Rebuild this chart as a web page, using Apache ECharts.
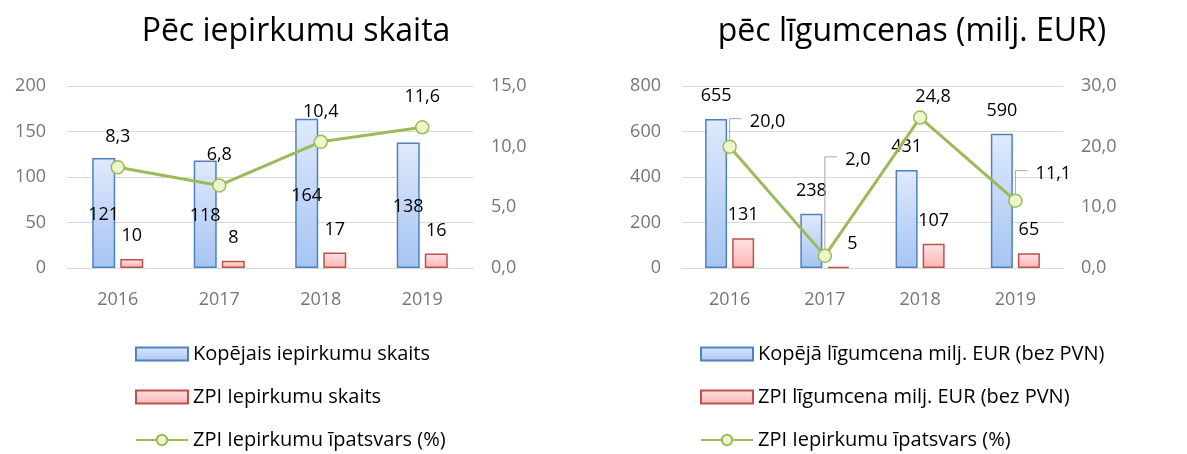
<!DOCTYPE html>
<html>
<head>
<meta charset="utf-8">
<title>ZPI iepirkumi</title>
<script src="https://cdn.jsdelivr.net/npm/echarts@6.0.0/dist/echarts.min.js"></script>
<style>
  html, body { margin: 0; padding: 0; background: #fff; }
  #chart { width: 1187px; height: 454px; }
</style>
</head>
<body>
<div id="chart"></div>
<script>
// dati
var years = ['2016', '2017', '2018', '2019'];

var skaitsKopa = [121, 118, 164, 138];
var skaitsZpi = [10, 8, 17, 16];
var skaitsIpatsvars = [8.3, 6.8, 10.4, 11.6];

var cenaKopa = [655, 238, 431, 590];
var cenaZpi = [131, 5, 107, 65];
var cenaIpatsvars = [20.0, 2.0, 24.8, 11.1];

var nosaukumi = {
  skaitsKopa: 'Kopējais iepirkumu skaits',
  skaitsZpi: 'ZPI Iepirkumu skaits',
  cenaKopa: 'Kopējā līgumcena milj. EUR (bez PVN)',
  cenaZpi: 'ZPI līgumcena milj. EUR (bez PVN)',
  ipatsvars: 'ZPI Iepirkumu īpatsvars (%)'
};

// label nobīdes labajā grafikā (px)
var cenaLabelOffset = [[38, -25], [33, -96], [13, -21], [38, -27]];
var cenaLeader = [true, true, false, true];
var cenaZpiOffset = [[0, 0], [14, 0], [0, 0], [0, 0]];

var FONT = '"Open Sans", "Noto Sans", sans-serif';

var blueFill = new echarts.graphic.LinearGradient(0, 0, 0, 1, [
  { offset: 0, color: '#dfeafc' },
  { offset: 1, color: '#a6c4f3' }
]);
var redFill = new echarts.graphic.LinearGradient(0, 0, 0, 1, [
  { offset: 0, color: '#fde3e3' },
  { offset: 1, color: '#fbb4b4' }
]);

function komats(v) {
  return Number(v).toFixed(1).replace('.', ',');
}

function yLeft(gridIndex, max, interval) {
  return {
    type: 'value', gridIndex: gridIndex, min: 0, max: max, interval: interval,
    axisLine: { show: false }, axisTick: { show: false },
    axisLabel: { color: '#767676', fontSize: 18, fontFamily: FONT, margin: 21 },
    splitLine: { lineStyle: { color: '#d9d9d9', width: 1 } }
  };
}
function yRight(gridIndex, max, interval) {
  return {
    type: 'value', gridIndex: gridIndex, position: 'right', min: 0, max: max, interval: interval,
    axisLine: { show: false }, axisTick: { show: false }, splitLine: { show: false },
    axisLabel: { color: '#767676', fontSize: 18, fontFamily: FONT, margin: 18, formatter: komats }
  };
}
function xAxis(gridIndex) {
  return {
    type: 'category', gridIndex: gridIndex, data: years,
    axisLine: { lineStyle: { color: '#d9d9d9', width: 1 } },
    axisTick: { show: false },
    axisLabel: { color: '#767676', fontSize: 18, fontFamily: FONT, margin: 23 }
  };
}

var lineStyleCommon = {
  type: 'line',
  symbol: 'circle',
  symbolSize: 13,
  lineStyle: { color: '#9bbb59', width: 3 },
  itemStyle: { color: '#ecf5cb', borderColor: '#9bbb59', borderWidth: 1.5 },
  z: 5
};

var legendCommon = {
  orient: 'vertical', top: 343, padding: 0,
  itemWidth: 52, itemHeight: 13, itemGap: 21,
  textStyle: { fontSize: 20, color: '#000', fontFamily: FONT, lineHeight: 22 }
};

var myChart = echarts.init(document.getElementById('chart'));
var option = {
  animation: false,
  backgroundColor: '#ffffff',
  textStyle: { fontFamily: FONT },
  title: [
    { text: 'Pēc iepirkumu skaita', left: 291, top: 11, textAlign: 'center',
      textStyle: { fontSize: 32, fontWeight: 'normal', color: '#000', fontFamily: FONT } },
    { text: 'pēc līgumcenas (milj. EUR)', left: 907, top: 11, textAlign: 'center',
      textStyle: { fontSize: 32, fontWeight: 'normal', color: '#000', fontFamily: FONT } }
  ],
  legend: [
    Object.assign({}, legendCommon, {
      left: 135,
      data: [
        { name: nosaukumi.skaitsKopa, icon: 'rect' },
        { name: nosaukumi.skaitsZpi, icon: 'rect' },
        { name: nosaukumi.ipatsvars }
      ]
    }),
    Object.assign({}, legendCommon, {
      left: 700,
      data: [
        { name: nosaukumi.cenaKopa, icon: 'rect' },
        { name: nosaukumi.cenaZpi, icon: 'rect' },
        { name: nosaukumi.ipatsvars }
      ]
    })
  ],
  grid: [
    { left: 67, width: 406, top: 86, height: 182 },
    { left: 682, width: 381, top: 86, height: 182 }
  ],
  xAxis: [xAxis(0), xAxis(1)],
  yAxis: [yLeft(0, 200, 50), yRight(0, 15, 5), yLeft(1, 800, 200), yRight(1, 30, 10)],
  series: [
    {
      name: nosaukumi.skaitsKopa, type: 'bar', xAxisIndex: 0, yAxisIndex: 0,
      barWidth: 23, barGap: '22%',
      data: skaitsKopa,
      itemStyle: { color: blueFill, borderColor: '#4f81bd', borderWidth: 1.5 },
      label: { show: true, position: 'inside', offset: [0, 2], color: '#000', fontSize: 18, fontFamily: FONT }
    },
    {
      name: nosaukumi.skaitsZpi, type: 'bar', xAxisIndex: 0, yAxisIndex: 0,
      barWidth: 23, barGap: '22%',
      data: skaitsZpi,
      itemStyle: { color: redFill, borderColor: '#c0504d', borderWidth: 1.5 },
      label: { show: true, position: 'top', distance: 14, color: '#000', fontSize: 18, fontFamily: FONT }
    },
    Object.assign({}, lineStyleCommon, {
      name: nosaukumi.ipatsvars, xAxisIndex: 0, yAxisIndex: 1,
      data: skaitsIpatsvars,
      label: { show: true, position: 'top', distance: 14, color: '#000', fontSize: 18, fontFamily: FONT, formatter: function (p) { return komats(p.value); } }
    }),
    {
      name: nosaukumi.cenaKopa, type: 'bar', xAxisIndex: 1, yAxisIndex: 2,
      barWidth: 22, barGap: '23%',
      data: cenaKopa,
      itemStyle: { color: blueFill, borderColor: '#4f81bd', borderWidth: 1.5 },
      label: { show: true, position: 'top', distance: 14, color: '#000', fontSize: 18, fontFamily: FONT }
    },
    {
      name: nosaukumi.cenaZpi, type: 'bar', xAxisIndex: 1, yAxisIndex: 2,
      barWidth: 22, barGap: '23%',
      data: cenaZpi.map(function (v, i) {
        return { value: v, label: { offset: cenaZpiOffset[i] } };
      }),
      itemStyle: { color: redFill, borderColor: '#c0504d', borderWidth: 1.5 },
      label: { show: true, position: 'top', distance: 14, color: '#000', fontSize: 18, fontFamily: FONT }
    },
    Object.assign({}, lineStyleCommon, {
      name: nosaukumi.ipatsvars, xAxisIndex: 1, yAxisIndex: 3,
      data: cenaIpatsvars.map(function (v, i) {
        return { value: v, label: { offset: cenaLabelOffset[i] } };
      }),
      label: { show: true, position: 'inside', color: '#000', fontSize: 18, fontFamily: FONT, formatter: function (p) { return komats(p.value); } }
    }),
    {
      // callout līnijas
      type: 'custom', xAxisIndex: 1, yAxisIndex: 3, silent: true, z: 4,
      data: cenaIpatsvars.map(function (v, i) { return [i, v]; }),
      renderItem: function (params, api) {
        var i = params.dataIndex;
        if (!cenaLeader[i]) return { type: 'group', children: [] };
        var p = api.coord([api.value(0), api.value(1)]);
        var y2 = p[1] + cenaLabelOffset[i][1] - 3;
        return {
          type: 'polyline',
          shape: { points: [[p[0], p[1] - 7], [p[0], y2], [p[0] + 12, y2]] },
          style: { stroke: '#a6a6a6', lineWidth: 1, fill: null }
        };
      }
    }
  ]
};
myChart.setOption(option);
</script>
</body>
</html>
